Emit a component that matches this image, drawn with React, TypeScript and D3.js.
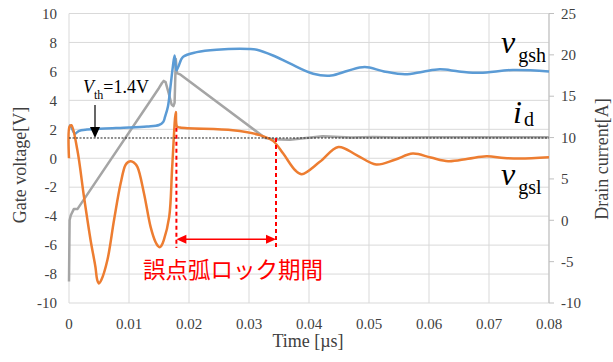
import React from "react";
import * as d3 from "d3";

// time [µs] / value pairs
const vgsh: [number, number][] = [
  [0, 2.28], [0.0003, 2.2], [0.001, 1.7], [0.0016, 1.88], [0.003, 1.98], [0.006, 2.05],
  [0.01, 2.12], [0.013, 2.2], [0.015, 2.3], [0.0157, 2.5], [0.016, 2.85], [0.0165, 3.6],
  [0.0169, 4.9], [0.0173, 6.3], [0.0176, 7.1], [0.0179, 6.07], [0.0182, 6.3], [0.019, 7.0],
  [0.0213, 7.33], [0.0246, 7.5], [0.03, 7.55], [0.0313, 7.5], [0.034, 7.1], [0.0368, 6.55],
  [0.0407, 5.84], [0.0437, 5.72], [0.0465, 6.05], [0.0493, 6.3], [0.0525, 6.0], [0.056, 5.8],
  [0.059, 5.98], [0.0618, 6.14], [0.065, 6.0], [0.0685, 5.9], [0.074, 6.1], [0.08, 6.0],
];

const vgsl: [number, number][] = [
  [0, 0], [0.0001, 2.2], [0.0004, 2.28], [0.0014, 0.55], [0.0025, -2.67], [0.0036, -5.66],
  [0.0044, -7.5], [0.0047, -8.4], [0.005, -8.65], [0.0054, -8.4], [0.0064, -7.03],
  [0.0075, -4.28], [0.0086, -1.75], [0.0094, -0.48], [0.0099, -0.25], [0.0103, -0.2],
  [0.0108, -0.3], [0.0114, -0.6], [0.0125, -2.43], [0.0136, -4.74], [0.0144, -5.77],
  [0.0148, -6.05], [0.0151, -6.15], [0.0154, -6.05], [0.0158, -5.66], [0.0167, -4.05],
  [0.0172, -0.6], [0.0178, 3.2], [0.018, 2.2], [0.0185, 2.12], [0.0273, 1.93], [0.0318, 1.6],
  [0.034, 1.2], [0.0357, 0.32], [0.0377, -0.83], [0.0388, -1.1], [0.0418, -0.25], [0.0449, 0.78],
  [0.048, 0.2], [0.0512, -0.43], [0.0543, -0.1], [0.0573, 0.32], [0.0603, 0.05],
  [0.0632, -0.2], [0.0665, -0.03], [0.0696, 0.14], [0.0725, 0.02], [0.0752, -0.02], [0.08, 0.07],
];

// drain current, right axis [A]
const id: [number, number][] = [
  [0, -7.4], [0.0001, 0.0], [0.0003, 0.6], [0.0008, 1.35], [0.0014, 1.35], [0.015, 16.0],
  [0.0155, 16.6], [0.0158, 16.85], [0.0161, 16.7], [0.0166, 15.4], [0.0171, 14.0],
  [0.0174, 13.8], [0.0176, 14.2], [0.0178, 19.5], [0.018, 17.8], [0.0186, 17.6],
  [0.0327, 9.95], [0.034, 9.8], [0.0368, 9.75], [0.0395, 9.95], [0.0423, 10.15],
  [0.047, 10.0], [0.0507, 10.07], [0.055, 10.0], [0.06, 10.05], [0.08, 10.05],
];

const timeTicks = [0, 0.01, 0.02, 0.03, 0.04, 0.05, 0.06, 0.07, 0.08];
const voltTicks = [-10, -8, -6, -4, -2, 0, 2, 4, 6, 8, 10];
const currentTicks = [-10, -5, 0, 5, 10, 15, 20, 25];

const vth = 1.4;
const lockStart = 0.0179;
const lockEnd = 0.0345;
const lockArrowV = -5.6;
const lockBottomV = -6.2;

const W = 613;
const H = 362;
const margin = { top: 13.5, right: 64, bottom: 59, left: 69 };

const serif = "'Liberation Serif', 'Times New Roman', serif";

export default function App() {
  const x = d3.scaleLinear().domain([0, 0.08]).range([margin.left, W - margin.right]);
  const yL = d3.scaleLinear().domain([-10, 10]).range([H - margin.bottom, margin.top]);
  const yR = d3.scaleLinear().domain([-10, 25]).range([H - margin.bottom, margin.top]);

  const lineL = d3
    .line<[number, number]>()
    .x((d) => x(d[0]))
    .y((d) => yL(d[1]))
    .curve(d3.curveCatmullRom.alpha(0.5));
  const lineR = d3
    .line<[number, number]>()
    .x((d) => x(d[0]))
    .y((d) => yR(d[1]))
    .curve(d3.curveLinear);

  const x0 = x(0);
  const x1 = x(0.08);
  const red = "#ff0000";
  const ay = yL(lockArrowV);
  const sx = x(lockStart);
  const ex = x(lockEnd);

  return (
    <svg
      width={W}
      height={H}
      style={{ position: "absolute", left: 0, top: 0, background: "#fff" }}
      fontFamily={serif}
    >
      {/* grid */}
      {voltTicks.map((v) => (
        <line key={"h" + v} x1={x0} x2={x1} y1={yL(v)} y2={yL(v)} stroke="#d9d9d9" strokeWidth={1} />
      ))}
      {timeTicks.map((t) => (
        <line key={"v" + t} x1={x(t)} x2={x(t)} y1={yL(10)} y2={yL(-10)} stroke="#d9d9d9" strokeWidth={1} />
      ))}
      <line x1={x1} x2={x1} y1={yR(25)} y2={yR(-10)} stroke="#bfbfbf" strokeWidth={1} />
      {currentTicks.map((c) => (
        <line key={"rt" + c} x1={x1} x2={x1 + 5} y1={yR(c)} y2={yR(c)} stroke="#bfbfbf" strokeWidth={1} />
      ))}

      {/* tick labels */}
      {voltTicks.map((v) => (
        <text key={"lt" + v} x={57} y={yL(v)} dy="0.35em" textAnchor="end" fontSize={15} fill="#404040">
          {v}
        </text>
      ))}
      {currentTicks.map((c) => (
        <text key={"rl" + c} x={561} y={yR(c)} dy="0.35em" textAnchor="start" fontSize={15} fill="#404040">
          {c}
        </text>
      ))}
      {timeTicks.map((t) => (
        <text key={"xt" + t} x={x(t)} y={329} textAnchor="middle" fontSize={15} fill="#404040">
          {t === 0 ? "0" : t.toFixed(2)}
        </text>
      ))}

      {/* axis titles */}
      <text x={308} y={347} textAnchor="middle" fontSize={18} fill="#404040">Time [µs]</text>
      <text transform={`translate(26,165) rotate(-90)`} textAnchor="middle" fontSize={18} fill="#404040">
        Gate voltage[V]
      </text>
      <text transform={`translate(602,159) rotate(-90)`} textAnchor="middle" dy="0.35em" fontSize={18} fill="#404040">
        Drain current[A]
      </text>

      {/* series */}
      <path d={lineR(id) ?? ""} fill="none" stroke="#a5a5a5" strokeWidth={2.5} strokeLinejoin="round" />
      <path d={lineL(vgsh) ?? ""} fill="none" stroke="#5b9bd5" strokeWidth={2.5} />
      <path d={lineL(vgsl) ?? ""} fill="none" stroke="#ed7d31" strokeWidth={2.5} />

      {/* threshold */}
      <line x1={x0} x2={x1} y1={yL(vth)} y2={yL(vth)} stroke="#222" strokeWidth={1} strokeDasharray="2,1.5" />
      <line x1={95} x2={95} y1={105} y2={128} stroke="#000" strokeWidth={1.2} />
      <path d={`M90,127 L100,127 L95,${yL(vth)} Z`} fill="#000" />
      <text x={83} y={93} fontSize={18} fill="#000">
        <tspan fontStyle="italic">V</tspan>
        <tspan fontSize={12} dy={6}>th</tspan>
        <tspan dy={-6}>=1.4V</tspan>
      </text>

      {/* series labels */}
      <text x={501} y={53} fill="#000">
        <tspan fontStyle="italic" fontSize={32}>v</tspan>
        <tspan fontSize={20} dx={3} dy={9}>gsh</tspan>
      </text>
      <text x={513} y={123} fill="#000">
        <tspan fontStyle="italic" fontSize={32}>i</tspan>
        <tspan fontSize={20} dx={2} dy={3}>d</tspan>
      </text>
      <text x={501} y={185} fill="#000">
        <tspan fontStyle="italic" fontSize={32}>v</tspan>
        <tspan fontSize={20} dx={3} dy={9}>gsl</tspan>
      </text>

      {/* lock period annotation */}
      <line x1={sx} x2={sx} y1={yL(2.1)} y2={yL(lockBottomV)} stroke={red} strokeWidth={2} strokeDasharray="4,3" />
      <line x1={ex} x2={ex} y1={yL(vth)} y2={yL(lockBottomV)} stroke={red} strokeWidth={2} strokeDasharray="4,3" />
      <line x1={sx + 8} x2={ex - 8} y1={ay} y2={ay} stroke={red} strokeWidth={1.5} />
      <path d={`M${sx},${ay} L${sx + 10},${ay - 4.5} L${sx + 10},${ay + 4.5} Z`} fill={red} />
      <path d={`M${ex},${ay} L${ex - 10},${ay - 4.5} L${ex - 10},${ay + 4.5} Z`} fill={red} />
      <text
        x={233}
        y={278}
        textAnchor="middle"
        fontSize={22.5}
        fill={red}
        fontFamily="'Noto Sans CJK JP', sans-serif"
      >
        誤点弧ロック期間
      </text>
    </svg>
  );
}
